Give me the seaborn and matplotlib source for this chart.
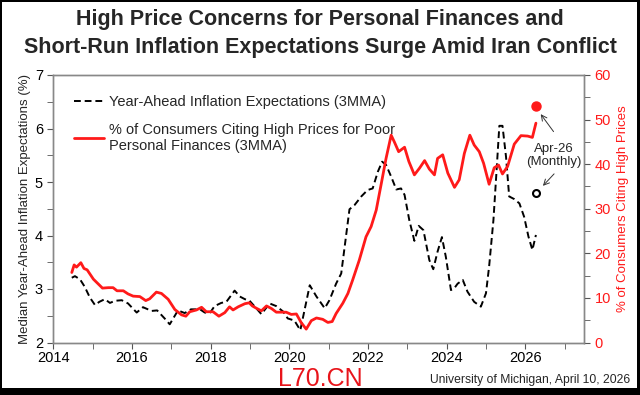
import numpy as np
import pandas as pd
import matplotlib
matplotlib.use("Agg")
import matplotlib.pyplot as plt
from matplotlib.patches import Rectangle
from matplotlib.ticker import MultipleLocator
import seaborn as sns

# ── Data (decimal years) ────────────────────────────────────────────────────
exp_year = [2014.47, 2014.55, 2014.68, 2014.80, 2014.93, 2015.06, 2015.17, 2015.31,
            2015.44, 2015.57, 2015.74, 2015.90, 2016.12, 2016.28, 2016.50, 2016.64,
            2016.83, 2016.96, 2017.17, 2017.34, 2017.50, 2017.73, 2017.85, 2017.98,
            2018.10, 2018.27, 2018.40, 2018.61, 2018.74, 2018.87, 2018.99, 2019.16,
            2019.29, 2019.50, 2019.67, 2019.84, 2019.96, 2020.13, 2020.28, 2020.52,
            2020.69, 2020.90, 2021.02, 2021.19, 2021.32, 2021.53, 2021.66, 2021.83,
            2021.99, 2022.12, 2022.25, 2022.36, 2022.46, 2022.59, 2022.72, 2022.84,
            2022.93, 2023.05, 2023.18, 2023.29, 2023.41, 2023.56, 2023.66, 2023.77,
            2023.88, 2023.98, 2024.11, 2024.20, 2024.28, 2024.41, 2024.53, 2024.70,
            2024.87, 2025.00, 2025.08, 2025.19, 2025.27, 2025.34, 2025.42, 2025.51,
            2025.59, 2025.72, 2025.85, 2025.97, 2026.08, 2026.18, 2026.27]
exp_val = [3.21, 3.24, 3.18, 3.04, 2.84, 2.70, 2.76, 2.81,
           2.74, 2.78, 2.79, 2.73, 2.56, 2.66, 2.59, 2.60,
           2.45, 2.34, 2.60, 2.55, 2.62, 2.62, 2.56, 2.55,
           2.68, 2.74, 2.76, 2.97, 2.86, 2.81, 2.78, 2.64,
           2.53, 2.73, 2.68, 2.58, 2.45, 2.41, 2.23, 3.07,
           2.86, 2.64, 2.79, 3.10, 3.29, 4.49, 4.57, 4.73,
           4.85, 4.88, 5.19, 5.38, 5.32, 5.10, 4.86, 4.88,
           4.76, 4.29, 3.90, 4.18, 4.10, 3.54, 3.37, 3.70,
           3.97, 3.60, 2.98, 3.02, 3.10, 3.17, 2.95, 2.76,
           2.67, 2.92, 3.42, 4.29, 5.22, 6.05, 6.05, 5.47,
           4.73, 4.68, 4.60, 4.35, 3.98, 3.73, 4.01]

hp_year = [2014.47, 2014.53, 2014.59, 2014.70, 2014.78, 2014.86, 2015.02, 2015.25,
           2015.40, 2015.52, 2015.62, 2015.78, 2015.90, 2016.03, 2016.20, 2016.35,
           2016.45, 2016.62, 2016.75, 2016.92, 2017.09, 2017.26, 2017.37, 2017.47,
           2017.64, 2017.77, 2017.89, 2018.06, 2018.21, 2018.36, 2018.48, 2018.57,
           2018.70, 2018.87, 2018.98, 2019.06, 2019.16, 2019.29, 2019.42, 2019.55,
           2019.67, 2019.92, 2020.05, 2020.18, 2020.30, 2020.43, 2020.56, 2020.69,
           2020.85, 2020.98, 2021.09, 2021.19, 2021.36, 2021.49, 2021.61, 2021.78,
           2021.95, 2022.08, 2022.21, 2022.34, 2022.46, 2022.59, 2022.67, 2022.78,
           2022.93, 2023.04, 2023.18, 2023.31, 2023.44, 2023.56, 2023.69, 2023.77,
           2023.90, 2024.03, 2024.20, 2024.32, 2024.45, 2024.59, 2024.70, 2024.83,
           2024.94, 2025.08, 2025.21, 2025.32, 2025.42, 2025.55, 2025.72, 2025.89,
           2026.06, 2026.18, 2026.27]
hp_val = [15.7, 17.4, 16.9, 17.9, 16.6, 16.3, 14.2, 12.2,
          12.3, 12.3, 11.6, 11.6, 10.9, 10.4, 10.3, 9.4,
          9.8, 11.3, 11.0, 9.7, 7.4, 6.2, 5.9, 6.9,
          7.3, 7.9, 6.9, 6.9, 5.9, 6.7, 8.0, 7.3,
          8.0, 8.7, 8.9, 8.2, 7.7, 7.1, 8.2, 7.6,
          6.8, 6.8, 6.3, 6.4, 4.5, 3.0, 4.9, 5.5,
          5.2, 4.5, 4.7, 6.5, 8.8, 11.0, 14.0, 18.5,
          23.7, 26.0, 29.7, 35.7, 41.3, 46.5, 45.0, 42.8,
          43.8, 40.6, 37.6, 39.1, 40.8, 38.9, 37.6, 41.3,
          42.1, 38.0, 34.8, 36.5, 42.4, 46.5, 44.3, 42.8,
          40.2, 35.5, 39.2, 39.8, 37.8, 39.5, 44.5, 46.4,
          46.3, 46.0, 49.2]

# April 2026 monthly readings
apr_year = 2026.27
apr_exp = 4.8
apr_hp = 53.1

exp_df = pd.DataFrame({"year": exp_year, "val": exp_val})
hp_df = pd.DataFrame({"year": hp_year, "val": hp_val})

sns.set_style("white")
plt.rcParams["font.family"] = ["Liberation Sans", "DejaVu Sans"]

RED = "#ff1a1a"

fig = plt.figure(figsize=(6.4, 3.95), dpi=100, facecolor="black")
fig.patches.append(Rectangle((2 / 640, 7 / 395), 635 / 640, 386 / 395,
                             transform=fig.transFigure, facecolor="white",
                             edgecolor="none", zorder=-10))
ax = fig.add_axes([53.3 / 640, 1 - 342.5 / 395, (584.3 - 53.3) / 640, (342.5 - 75) / 395])
ax2 = ax.twinx()

sns.lineplot(data=exp_df, x="year", y="val", ax=ax, color="black", lw=1.4,
             linestyle=(0, (3.5, 2)), estimator=None, sort=False,
             label="Year-Ahead Inflation Expectations (3MMA)")
sns.lineplot(data=hp_df, x="year", y="val", ax=ax2, color=RED, lw=2,
             estimator=None, sort=False, legend=False)
ax.plot([], [], color=RED, lw=2,
        label="% of Consumers Citing High Prices for Poor\nPersonal Finances (3MMA)")

ax.plot([apr_year], [apr_exp], "o", ms=5, mfc="white", mec="black", mew=1.5)
ax2.plot([apr_year], [apr_hp], "o", ms=6.5, color=RED)

ax.set_xlim(2014, 2027.5)
ax.set_ylim(2, 7)
ax2.set_ylim(0, 60)
ax.xaxis.set_major_locator(MultipleLocator(2))
ax.xaxis.set_minor_locator(MultipleLocator(1))
ax.yaxis.set_major_locator(MultipleLocator(1))
ax.yaxis.set_minor_locator(MultipleLocator(0.5))
ax2.yaxis.set_major_locator(MultipleLocator(10))
ax2.yaxis.set_minor_locator(MultipleLocator(5))

for a in (ax, ax2):
    for s in a.spines.values():
        s.set_color("#888888")
        s.set_linewidth(1)
ax.tick_params(axis="both", which="both", direction="out", color="#555555",
               labelsize=10.5, labelcolor="black", length=4)
ax.tick_params(axis="x", which="both", bottom=True, pad=2)
ax.tick_params(axis="y", which="both", left=True)
ax2.tick_params(axis="y", which="both", direction="out", color="#555555",
                labelsize=10.5, labelcolor=RED, right=True, length=4)

ax.set_xlabel("")
ax.set_ylabel("Median Year-Ahead Inflation Expectations (%)", fontsize=9.5, labelpad=3)
ax2.set_ylabel("% of Consumers Citing High Prices", fontsize=9.5, color=RED)

ax.legend(loc="upper left", bbox_to_anchor=(0.0, 1.0), frameon=False,
          fontsize=10.5, handlelength=2.1, handletextpad=0.3,
          borderaxespad=1.0, labelspacing=0.9)

# annotation for April monthly readings
ax.annotate("", xy=(2026.35, 6.31), xytext=(2026.76, 5.90),
            arrowprops=dict(arrowstyle="->", color="#333333", lw=0.7))
ax.annotate("", xy=(2026.40, 4.89), xytext=(2026.78, 5.19),
            arrowprops=dict(arrowstyle="->", color="#333333", lw=0.7))
ax.text(2026.73, 5.50, "Apr-26\n(Monthly)", ha="center", va="center",
        fontsize=9.5, linespacing=1.1)

fig.text(0.5, 1 - 20 / 395, "High Price Concerns for Personal Finances and",
         ha="center", va="center", fontsize=15.5, fontweight="bold")
fig.text(0.5, 1 - 47 / 395, "Short-Run Inflation Expectations Surge Amid Iran Conflict",
         ha="center", va="center", fontsize=15.5, fontweight="bold")
fig.text(320 / 640, 1 - 379 / 395, "L70.CN", ha="center", va="center",
         fontsize=18, color="#e8141a")
fig.text(630 / 640, 1 - 380 / 395, "University of Michigan, April 10, 2026",
         ha="right", va="center", fontsize=8.7)

fig.savefig("out.png", dpi=100, facecolor=fig.get_facecolor())
